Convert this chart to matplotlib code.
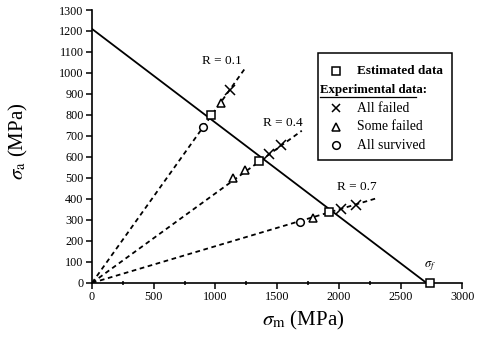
import matplotlib
matplotlib.use('Agg')
import matplotlib.pyplot as plt
from matplotlib.patches import Rectangle
from matplotlib.ticker import MultipleLocator

plt.rcParams['font.family'] = ['Liberation Serif', 'DejaVu Serif']
plt.rcParams['mathtext.fontset'] = 'stix'

# Goodman line (sigma_a at sigma_m = 0, sigma_u)
goodman_m = [0, 2710]
goodman_a = [1210, 0]
sigma_u = [2740]

# constant-R load lines: end points of the dashed rays from the origin
r_labels = ['R = 0.1', 'R = 0.4', 'R = 0.7']
ray_end_m = [1250, 1700, 2305]
ray_end_a = [1030, 725, 403]
r_label_pos = [(1053, 1057), (1547, 763), (2146, 455)]

# estimated data (intersection with Goodman line)
est_m = [968, 1350, 1922]
est_a = [800, 580, 338]

# experimental data
failed_m = [1117, 1433, 1530, 2016, 2138]
failed_a = [919, 616, 659, 351, 370]
some_m = [1045, 1142, 1239, 1789]
some_a = [858, 498, 536, 308]
surv_m = [899, 1684]
surv_a = [744, 289]

fig = plt.figure(figsize=(4.79, 3.45), dpi=100)
ax = fig.add_axes([0.192, 0.18, 0.773, 0.791])

ax.plot(goodman_m, goodman_a, color='black', lw=1.3, zorder=2)
for m, a in zip(ray_end_m, ray_end_a):
    ax.plot([0, m], [0, a], color='black', lw=1.3, ls=(0, (2.6, 2.0)), zorder=1)
for lab, (m, a) in zip(r_labels, r_label_pos):
    ax.text(m, a, lab, ha='center', va='center', fontsize=9.5)

mk = dict(ls='none', color='black', mfc='white', mew=1.1, ms=5.5, zorder=3)
ax.plot(est_m, est_a, marker='s', **mk)
ax.plot(sigma_u, [0], marker='s', clip_on=False, **mk)
ax.plot(some_m, some_a, marker='^', **mk)
ax.plot(surv_m, surv_a, marker='o', **mk)
ax.plot(failed_m, failed_a, marker='x', ls='none', color='black', ms=6.5, mew=1.1, zorder=3)
ax.text(2737, 78, r'$\sigma_f$', ha='center', va='center', fontsize=9)

ax.set_xlim(0, 3000)
ax.set_ylim(0, 1300)
ax.spines['top'].set_visible(False)
ax.spines['right'].set_visible(False)
ax.spines['left'].set_linewidth(1.2)
ax.spines['bottom'].set_linewidth(1.2)
ax.xaxis.set_major_locator(MultipleLocator(500))
ax.xaxis.set_minor_locator(MultipleLocator(250))
ax.yaxis.set_major_locator(MultipleLocator(100))
ax.tick_params(which='major', direction='out', length=4, width=1.1, labelsize=8.7, pad=2)
ax.tick_params(which='minor', direction='inout', length=3, width=1.1)
ax.set_xlabel(r'$\sigma_\mathrm{m}$ (MPa)', fontsize=15)
ax.set_ylabel(r'$\sigma_\mathrm{a}$ (MPa)', fontsize=15)
ax.xaxis.set_label_coords(0.57, -0.095)
ax.yaxis.set_label_coords(-0.168, 0.52)

# legend drawn by hand (needs the underlined heading)
tr = ax.transAxes
def px(x, y):
    return ((x - 92) / 370.0, (283 - y) / 273.0)

x0, y0 = px(318, 160)
x1, y1 = px(452, 53)
ax.add_patch(Rectangle((x0, y0), x1 - x0, y1 - y0, transform=tr, fill=False,
                       ec='black', lw=1.1, clip_on=False, zorder=4))
rows = [('s', 'Estimated data', 'bold', 71), (None, 'Experimental data:', 'bold', 90.5),
        ('x', 'All failed', 'normal', 108.5), ('^', 'Some failed', 'normal', 127),
        ('o', 'All survived', 'normal', 145.5)]
for m, lab, wt, yy in rows:
    if m is None:
        xt, yt = px(320, yy)
        ax.text(xt, yt, lab, transform=tr, fontsize=9.3, weight=wt, va='center')
        ax.plot([xt, px(416, yy)[0]], [px(0, yy + 6.5)[1]] * 2, transform=tr,
                color='black', lw=0.9, clip_on=False)
        continue
    xm, ym = px(336, yy)
    if m == 'x':
        ax.plot([xm], [ym], marker='x', color='black', ms=6, mew=1.1, transform=tr, clip_on=False)
    else:
        ax.plot([xm], [ym], marker=m, color='black', mfc='white', ms=5.5, mew=1.1,
                transform=tr, clip_on=False)
    xt, yt = px(357, yy)
    ax.text(xt, yt, lab, transform=tr, fontsize=9.8 if wt == 'normal' else 9.5,
            weight=wt, va='center')

fig.savefig('out.png', dpi=100)
